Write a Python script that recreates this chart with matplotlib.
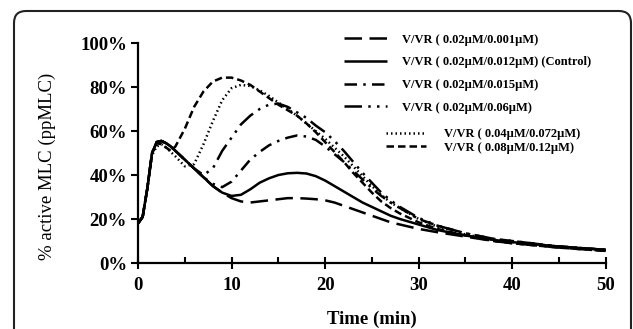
import matplotlib
matplotlib.use("Agg")
import matplotlib.pyplot as plt
from matplotlib.patches import FancyBboxPatch
from matplotlib.ticker import MultipleLocator, PercentFormatter

# time points (min)
t = [0, 0.5, 1, 1.5, 2, 2.5, 3, 3.5, 4, 5, 6, 7, 8, 9, 10, 11, 12, 13, 14, 15, 16, 17,
     18, 19, 20, 21, 22, 23, 24, 25, 26, 27, 28, 30, 32, 35, 38, 40, 45, 50]

# % active MLC
vr_0001 = [18, 21, 34, 50, 55, 55.5, 54.5, 53, 51,
           47, 43, 39, 35, 32, 29.5, 28, 27.5, 28, 28.5, 29, 29.5, 29.5, 29.3, 29, 28.5,
           27.5, 26, 24.5, 23, 21.5, 20, 18.5, 17.5,
           15.5, 14, 12, 10, 9, 7, 5.5]
vr_0012 = [18, 21, 34, 50, 55, 55.5, 54.5, 53, 51,
           47, 43, 39, 35, 32, 30.5, 31, 33.5, 36.5, 38.5, 40, 40.8, 41, 40.7, 39.5, 37.5,
           35, 32.5, 30, 27.5, 25.5, 23.5, 21.5, 20,
           17.5, 15, 12.5, 10.5, 9.5, 7.5, 6]
vr_0015 = [18, 21, 34, 50, 55, 55.5, 54.5, 53, 51,
           47, 43, 39, 36, 34.5, 37, 42, 47, 50.5, 53.5, 55.5, 57, 58, 57.5, 56, 53,
           49.5, 46, 42, 38, 34, 30.5, 27.5, 25,
           20, 17, 13.5, 11, 10, 7.5, 6]
vr_006 = [18, 21, 34, 50, 55, 55.5, 54.5, 53, 51,
          47, 43, 40, 43, 51, 57, 63, 67, 70, 72, 72.5, 71, 68.5, 66, 62.5, 59.5,
          55.5, 51, 46, 41, 36.5, 32, 28.5, 25.5,
          20.5, 17, 13.5, 11, 10, 7.5, 6]
vr_0072 = [18, 21, 34, 49, 53, 54, 52.5, 50.5, 48.5,
           44, 45, 54, 64.5, 74, 79.5, 81, 80.5, 78.5, 76, 73, 70, 67, 63.5, 60, 56.5,
           52.5, 48.5, 44, 39.5, 35, 31, 27.5, 25,
           20, 16.5, 13, 10.5, 9.5, 7.5, 6]
vr_012 = [18, 21, 34, 50, 54.5, 54, 52.5, 51, 53,
          61, 71, 78, 82.5, 84.3, 84.3, 83, 81, 78, 75, 72, 69.5, 67, 63.5, 59.5, 55,
          50.5, 46, 41, 36.5, 32, 28, 25, 22.5,
          18.5, 15.5, 12.5, 10, 9, 7, 5.5]

labels = ["V/VR ( 0.02\u00b5M/0.001\u00b5M)",
          "V/VR ( 0.02\u00b5M/0.012\u00b5M) (Control)",
          "V/VR ( 0.02\u00b5M/0.015\u00b5M)",
          "V/VR ( 0.02\u00b5M/0.06\u00b5M)",
          "V/VR ( 0.04\u00b5M/0.072\u00b5M)",
          "V/VR ( 0.08\u00b5M/0.12\u00b5M)"]

plt.rcParams['font.family'] = ['Liberation Serif', 'DejaVu Serif']
plt.rcParams['font.weight'] = 'bold'

fig = plt.figure(figsize=(6.33, 3.29), dpi=100)
ax = fig.add_axes([0.218, 0.2006, 0.739, 0.6684])

lw = 1.8
series = [vr_0001, vr_0012, vr_0015, vr_006, vr_0072, vr_012]
styles = [(0, (7, 3)), '-', (0, (5, 2.5, 1, 2.5)), (0, (7, 2.5, 1, 2.5, 1, 2.5)),
          (0, (0.6, 1.2)), (0, (3, 1.6))]
lines = []
for vals, ls in zip(series, styles):
    l, = ax.plot(t, vals, color='black', lw=lw, linestyle=ls,
                 dash_capstyle='butt', solid_capstyle='butt')
    lines.append(l)

ax.set_xlim(0, 50)
ax.set_ylim(0, 100)
ax.xaxis.set_major_locator(MultipleLocator(10))
ax.xaxis.set_minor_locator(MultipleLocator(5))
ax.yaxis.set_major_locator(MultipleLocator(20))
ax.yaxis.set_major_formatter(PercentFormatter(decimals=0))
for s in ['top', 'right']:
    ax.spines[s].set_visible(False)
for s in ['left', 'bottom']:
    ax.spines[s].set_linewidth(1.6)
ax.tick_params(axis='x', which='major', direction='inout', length=8, width=1.5,
               labelsize=13.5, pad=6)
ax.tick_params(axis='x', which='minor', direction='in', length=4, width=1.5)
ax.tick_params(axis='y', direction='out', length=5, width=1.5, labelsize=13.5, pad=3)
ax.set_xlabel('Time (min)', fontsize=13.5, fontweight='bold', labelpad=12)
ax.set_ylabel('% active MLC (ppMLC)', fontsize=13.5, fontweight='normal')
ax.yaxis.set_label_coords(-0.175, 0.44)

leg1 = ax.legend(lines[:4], labels[:4], loc='upper left',
                 bbox_to_anchor=(0.43, 1.065), frameon=False, fontsize=9,
                 handlelength=3.4, handletextpad=1.2, labelspacing=0.85,
                 borderaxespad=0)
ax.add_artist(leg1)
ax.legend(lines[4:], labels[4:], loc='upper left',
          bbox_to_anchor=(0.52, 0.635), frameon=False, fontsize=9,
          handlelength=3.2, handletextpad=1.4, labelspacing=0.1,
          borderaxespad=0)

# rounded frame around the figure (bottom runs off the image)
frame = FancyBboxPatch((0.14, -0.4), 6.17, 3.58,
                       boxstyle='round,pad=0,rounding_size=0.12',
                       transform=fig.dpi_scale_trans, fill=False,
                       edgecolor='#222222', linewidth=1.5, clip_on=False)
fig.add_artist(frame)

fig.savefig('out.png', dpi=100)
